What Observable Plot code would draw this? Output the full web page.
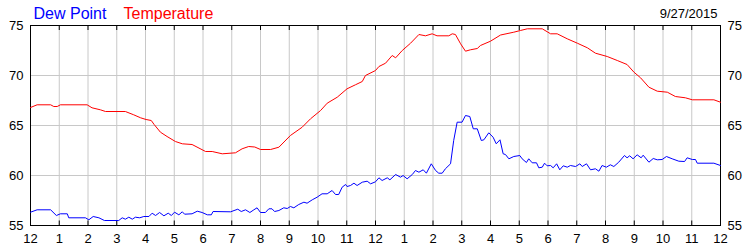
<!DOCTYPE html>
<html>
<head>
<meta charset="utf-8">
<script src="https://cdn.jsdelivr.net/npm/d3@7"></script>
<script src="https://cdn.jsdelivr.net/npm/@observablehq/plot@0.6"></script>
<style>
  html, body { margin: 0; padding: 0; background: #fff; }
  #chart svg { display: block; }
</style>
</head>
<body>
<div id="chart"></div>
<script>
// Hours since midnight (0..24) and readings (°F)
const tempHours = [0,0.23,0.7,0.81,0.93,1.04,1.97,2.14,2.43,2.61,3.3,3.59,3.83,4.02,4.2,4.3,4.52,4.75,5.04,5.28,5.62,6.09,6.32,6.67,7.13,7.36,7.59,7.8,8.0,8.35,8.64,9.04,9.45,9.74,10.09,10.32,10.67,11.01,11.3,11.54,11.65,12.0,12.12,12.35,12.58,12.7,12.93,13.22,13.51,13.74,13.97,14.14,14.55,14.67,14.78,14.96,15.13,15.3,15.54,15.65,16.0,16.35,16.81,17.04,17.28,17.8,18.09,18.32,18.67,19.02,19.37,19.65,20.06,20.41,20.75,20.99,21.22,21.51,21.8,22.15,22.43,22.78,23.02,23.77,24.0];
const tempValues = [66.8,67.07,67.07,66.9,66.9,67.07,67.07,66.77,66.57,66.4,66.4,66.07,65.77,65.6,65.5,65.1,64.33,63.9,63.4,63.17,63.1,62.4,62.4,62.17,62.27,62.67,62.9,62.85,62.6,62.6,62.83,64.0,64.83,65.67,66.5,67.23,67.83,68.67,69.07,69.4,70.0,70.5,70.9,71.23,72.0,71.77,72.5,73.23,74.1,73.97,74.17,73.97,73.97,74.17,74.1,73.17,72.43,72.57,72.7,73.0,73.43,74.05,74.33,74.5,74.67,74.67,74.17,74.17,73.67,73.23,72.77,72.23,71.9,71.5,71.1,70.33,69.77,68.83,68.43,68.33,67.9,67.77,67.57,67.57,67.33];

const dewHours = [0,0.23,0.7,0.9,1.04,1.28,1.33,1.91,2.03,2.18,2.38,2.57,3.07,3.19,3.3,3.42,3.54,3.65,3.8,3.94,4.12,4.23,4.35,4.49,4.64,4.79,4.9,5.01,5.16,5.28,5.36,5.62,5.8,5.97,6.15,6.29,6.35,6.96,7.21,7.33,7.48,7.63,7.77,7.88,8.0,8.17,8.29,8.4,8.49,8.64,8.81,8.93,9.04,9.16,9.33,9.51,9.62,9.8,9.97,10.14,10.32,10.49,10.61,10.72,10.84,10.96,11.01,11.13,11.25,11.36,11.54,11.71,11.83,12.0,12.12,12.23,12.41,12.5,12.7,12.87,12.96,13.1,13.28,13.39,13.51,13.66,13.77,13.94,14.09,14.2,14.32,14.43,14.61,14.72,14.84,15.01,15.13,15.28,15.4,15.54,15.68,15.77,15.94,16.09,16.2,16.33,16.44,16.52,16.64,16.81,17.02,17.1,17.25,17.33,17.45,17.6,17.68,17.8,17.88,17.97,18.09,18.18,18.3,18.41,18.53,18.67,18.78,18.96,19.11,19.19,19.34,19.48,19.65,19.77,19.88,20.03,20.17,20.29,20.46,20.66,20.75,20.84,20.96,21.1,21.24,21.31,21.51,21.66,21.8,21.97,22.12,22.32,22.55,22.75,22.84,23.02,23.13,23.19,23.77,24.0];
const dewValues = [56.33,56.57,56.57,56.0,56.17,56.17,55.77,55.77,55.57,55.9,55.77,55.5,55.5,55.77,55.63,55.83,55.63,55.83,55.77,55.9,55.9,56.23,56.0,56.3,55.97,56.23,56.0,56.33,56.07,56.37,56.13,56.17,56.43,56.3,56.07,56.07,56.4,56.37,56.63,56.4,56.57,56.3,56.57,56.77,56.3,56.3,56.67,56.67,56.4,56.5,56.77,56.7,56.9,56.77,57.1,57.33,57.23,57.57,57.83,58.17,58.17,58.5,58.1,58.1,58.83,59.1,58.9,59.0,59.23,59.0,59.33,59.43,59.17,59.37,59.77,59.5,59.77,59.57,60.1,59.83,60.0,59.67,60.1,60.5,60.33,60.57,60.23,61.17,60.5,60.23,60.23,60.67,61.17,63.5,65.33,65.33,66.0,65.9,64.67,64.67,63.5,63.57,64.27,63.83,63.17,63.57,62.17,62.1,61.67,61.9,62.0,61.67,61.3,61.67,61.27,61.27,60.77,60.83,61.23,60.97,61.0,60.77,61.17,60.57,60.97,60.83,61.0,60.9,61.17,60.9,61.17,60.57,60.67,60.43,61.0,60.83,61.07,60.9,61.33,62.0,61.77,61.97,61.67,62.07,61.77,62.03,61.33,61.7,61.57,61.6,61.9,61.67,61.43,61.4,61.77,61.6,61.6,61.23,61.23,61.0];

const hourTicks = d3.range(0, 25);
const hourLabels = ["12","1","2","3","4","5","6","7","8","9","10","11","12","1","2","3","4","5","6","7","8","9","10","11","12"];
const yTicks = [55, 60, 65, 70, 75];
const yGrid = [60, 65, 70];
const legendItems = ["Dew Point", "Temperature"];
const dateLabel = "9/27/2015";

const temp = tempHours.map((h, i) => ({h, v: tempValues[i]}));
const dew = dewHours.map((h, i) => ({h, v: dewValues[i]}));

const chart = Plot.plot({
  width: 750,
  height: 250,
  marginLeft: 30,
  marginRight: 30,
  marginTop: 25,
  marginBottom: 25,
  style: {fontFamily: "'Liberation Sans', Arial, sans-serif", fontSize: "13px", color: "#000", background: "#fff"},
  x: {domain: [0, 24]},
  y: {domain: [55, 75]},
  marks: [
    Plot.gridX(hourTicks, {stroke: "#c8c8c8", strokeOpacity: 1}),
    Plot.gridY(yGrid, {stroke: "#c8c8c8", strokeOpacity: 1}),
    Plot.ruleX(hourTicks, {x: d => d, y1: 55, y2: 55.45, stroke: "#000"}),
    Plot.ruleX(hourTicks, {x: d => d, y1: 75, y2: 74.5, stroke: "#000"}),
    Plot.frame({stroke: "#000"}),
    Plot.line(temp, {x: "h", y: "v", stroke: "#ff0000", strokeWidth: 1}),
    Plot.line(dew, {x: "h", y: "v", stroke: "#0000ff", strokeWidth: 1}),
    Plot.axisY({anchor: "left", ticks: yTicks, tickSize: 0, tickPadding: 7, label: null, fontSize: 13, fill: "#000"}),
    Plot.axisY({anchor: "right", ticks: yTicks, tickSize: 0, tickPadding: 7, label: null, fontSize: 13, fill: "#000"}),
    Plot.axisX({anchor: "bottom", ticks: hourTicks, tickFormat: d => hourLabels[d], tickSize: 0, tickPadding: 8, label: null, fontSize: 13, fill: "#000"}),
    Plot.text([legendItems[0]], {text: d => d, frameAnchor: "top-left", textAnchor: "start", lineAnchor: "bottom", dx: 3, dy: -7, fill: "#0000ff", fontSize: 16}),
    Plot.text([legendItems[1]], {text: d => d, frameAnchor: "top-left", textAnchor: "start", lineAnchor: "bottom", dx: 93, dy: -7, fill: "#ff0000", fontSize: 16}),
    Plot.text([dateLabel], {text: d => d, frameAnchor: "top-right", textAnchor: "end", lineAnchor: "bottom", dx: -3, dy: -8, fill: "#000", fontSize: 13})
  ]
});
document.getElementById("chart").appendChild(chart);
</script>
</body>
</html>
